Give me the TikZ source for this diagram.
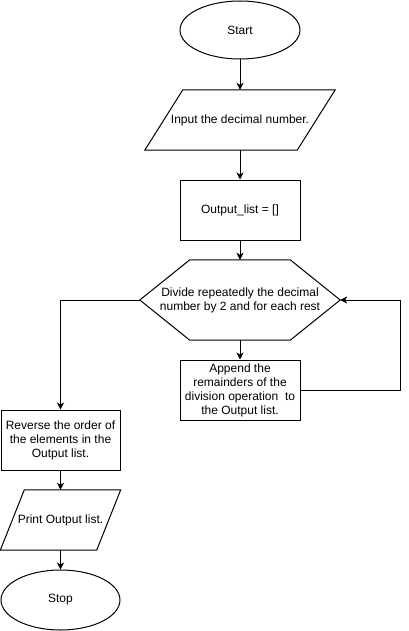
\documentclass[tikz,border=0pt]{standalone}
\usepackage{fontspec}
\setmainfont{Liberation Sans}
\usetikzlibrary{shapes.geometric,arrows.meta}
\begin{document}
\begin{tikzpicture}[x=1pt,y=-1pt,
  every node/.style={font=\fontsize{12}{14}\selectfont, text=black, inner sep=0pt, align=center},
  line/.style={draw=black, line width=1pt},
  arr/.style={line, -{Stealth[length=7pt,width=7pt,inset=2pt]}},
  term/.style={line, ellipse, minimum width=120pt, minimum height=58pt},
  procbox/.style={line, rectangle, minimum width=120pt, minimum height=60pt},
  hold/.style={rectangle, draw=none}]
\useasboundingbox (0,0) rectangle (409,631);
% Start
\node[term] (start) at (240,30) {Start};
% Input parallelogram
\node[hold, minimum width=152pt, minimum height=60pt] (inp) at (240,120) {Input the decimal number.};
\draw[line] ([xshift=-19pt]inp.south west) -- ([xshift=19pt]inp.north west) -- ([xshift=19pt]inp.north east) -- ([xshift=-19pt]inp.south east) -- cycle;
% Output_list
\node[procbox] (out) at (240,210) {Output\_list = []};
% Hexagon
\node[hold, minimum width=200pt, minimum height=80pt] (hex) at (240,300) {Divide repeatedly the decimal\\number by 2 and for each rest};
\draw[line] (hex.west) -- ([xshift=50pt]hex.north west) -- ([xshift=-50pt]hex.north east) -- (hex.east) -- ([xshift=-50pt]hex.south east) -- ([xshift=50pt]hex.south west) -- cycle;
% Append
\node[procbox] (app) at (240,390) {Append the\\remainders of the\\division operation~ to\\the Output list.};
% Reverse
\node[procbox, minimum width=119pt] (rev) at (60.5,440) {Reverse the order of\\the elements in the\\Output list.};
% Print parallelogram
\node[hold, minimum width=96pt, minimum height=60pt] (prt) at (60.5,520) {Print Output list.};
\draw[line] ([xshift=-12pt]prt.south west) -- ([xshift=12pt]prt.north west) -- ([xshift=12pt]prt.north east) -- ([xshift=-12pt]prt.south east) -- cycle;
% Stop
\node[term, minimum width=119pt, minimum height=60pt] (stop) at (60.5,600) {Stop};
% loop corner coordinates
\coordinate (lr) at (400,390);
\coordinate (ur) at (400,300);
\coordinate (ul) at (60.5,300);
% connectors
\draw[arr] (start.south) -- (inp.north);
\draw[arr] (inp.south) -- (out.north);
\draw[arr] (out.south) -- (hex.north);
\draw[arr] (hex.south) -- (app.north);
\draw[arr] (app.east) -- (lr) -- (ur) -- (hex.east);
\draw[arr] (hex.west) -- (ul) -- (rev.north);
\draw[arr] (rev.south) -- (prt.north);
\draw[arr] (prt.south) -- (stop.north);
\end{tikzpicture}
\end{document}
